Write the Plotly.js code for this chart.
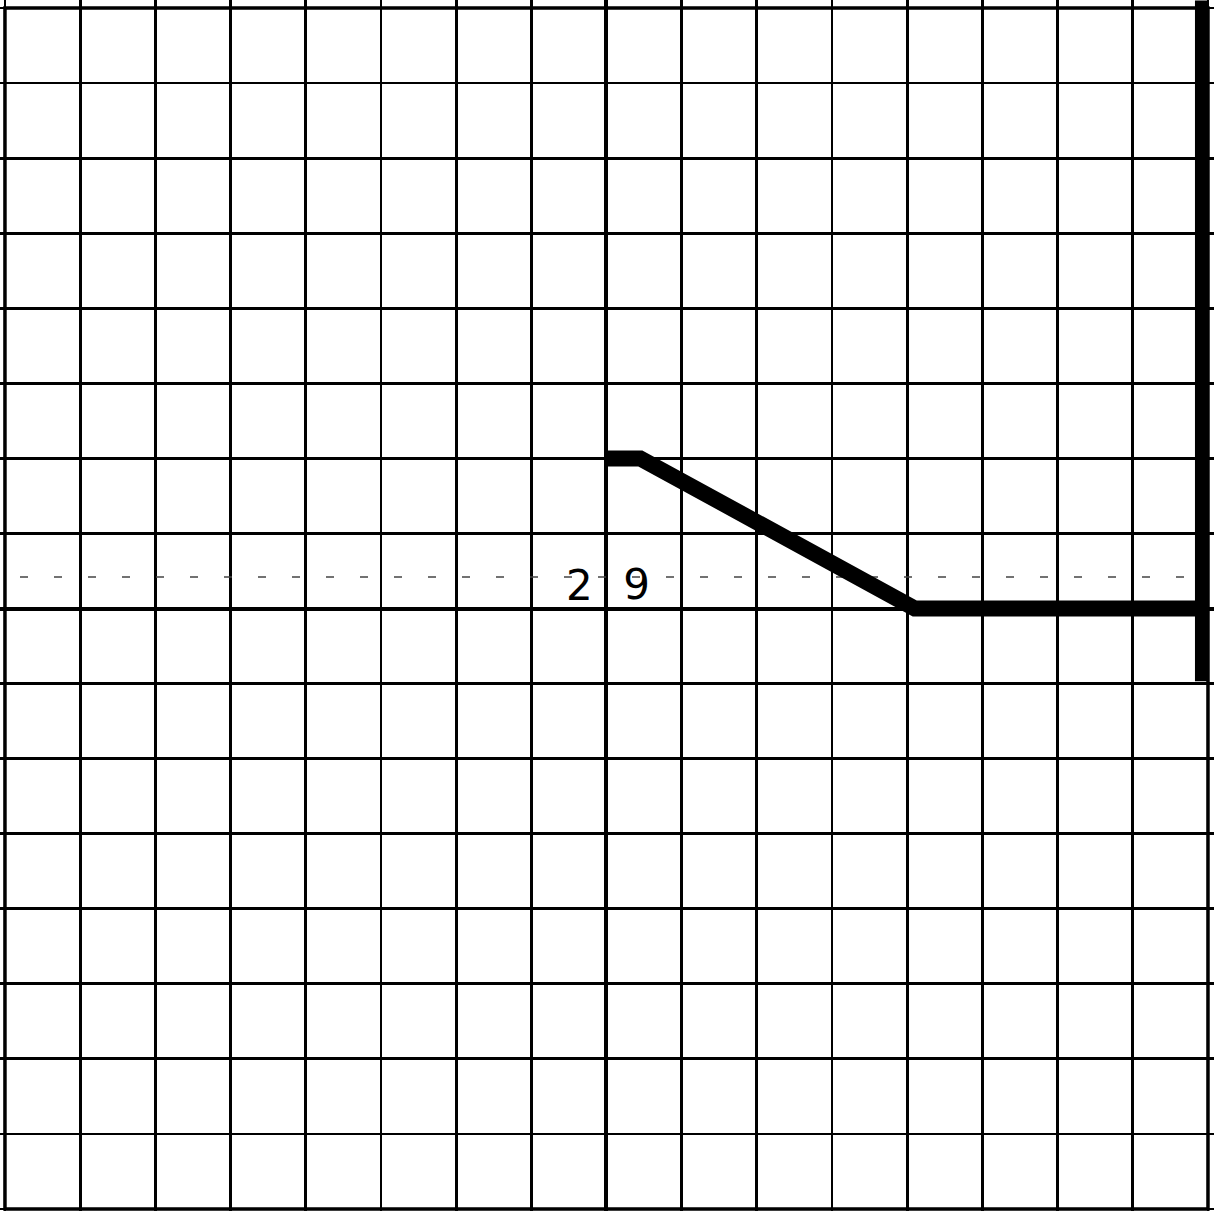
<!DOCTYPE html>
<html>
<head>
<meta charset="utf-8">
<script src="https://cdn.plot.ly/plotly-3.0.1.min.js"></script>
<style>html,body{margin:0;padding:0;background:#fff;}#chart{width:1214px;height:1211px;}</style>
</head>
<body>
<div id="chart"></div>
<script>
// Plotted curve (grid units, origin at the heavy centre lines)
const curveX = [0, 0.45, 4.1, 7.92];
const curveY = [2, 2, 0, 0];
// Heavy vertical stroke at the right edge
const wallX = [7.92, 7.92];
const wallY = [-0.97, 8.1];
// Faint dashed guide line
const guideX = [-7.8, 7.9];
const guideY = [0.42, 0.42];
// Handwritten labels
const labelText = ["2", "9"];
const labelX = [-0.36, 0.40];
const labelY = [0.25, 0.27];

const traces = [
  {x: guideX, y: guideY, mode: 'lines', line: {color: '#444', width: 1.5, dash: '8px,26px'}, hoverinfo: 'skip', showlegend: false},
  {x: curveX, y: curveY, mode: 'lines', line: {color: '#000', width: 16, shape: 'linear'}, hoverinfo: 'skip', showlegend: false},
  {x: wallX, y: wallY, mode: 'lines', line: {color: '#000', width: 14}, hoverinfo: 'skip', showlegend: false},
  {x: labelX, y: labelY, mode: 'text', text: labelText, textfont: {family: 'DejaVu Sans ExtraLight, DejaVu Sans', size: 42, color: '#000'}, hoverinfo: 'skip', showlegend: false}
];

const axisCommon = {
  dtick: 1, tick0: 0,
  showgrid: true, gridcolor: '#000', gridwidth: 2.8,
  zeroline: true, zerolinecolor: '#000', zerolinewidth: 4,
  showticklabels: false, ticks: '', showline: false, fixedrange: true
};

const layout = {
  width: 1214, height: 1211,
  margin: {l: 0, r: 0, t: 0, b: 0, pad: 0},
  paper_bgcolor: '#fff', plot_bgcolor: '#fff',
  xaxis: Object.assign({}, axisCommon, {range: [-8.066, 8.08]}),
  yaxis: Object.assign({}, axisCommon, {range: [-8.027, 8.107]}),
  shapes: [
    {type: 'rect', xref: 'x', yref: 'y', x0: -8, x1: 8, y0: -8, y1: 8, line: {color: '#000', width: 3.5}, layer: 'below'}
  ],
  showlegend: false
};

Plotly.newPlot('chart', traces, layout, {staticPlot: true, displayModeBar: false});
</script>
</body>
</html>
